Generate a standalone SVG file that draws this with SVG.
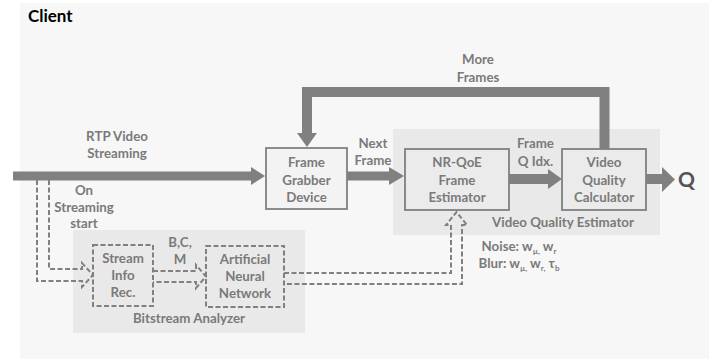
<svg xmlns="http://www.w3.org/2000/svg" width="716" height="360" viewBox="0 0 716 360">
<style>
  text { font-family: Lato, "Open Sans", "Liberation Sans", sans-serif; font-weight: bold; fill: #7a7a7a; }
  .lbl { font-size: 13.3px; text-anchor: middle; }
  .panel { fill: #e9e9e9; }
  .box { stroke: #808080; stroke-width: 1.8; }
  .dbox { fill: none; stroke: #808080; stroke-width: 2; stroke-dasharray: 5 2.5; }
  .thick { fill: #808080; }
  .thickl { fill: none; stroke: #808080; stroke-width: 10; stroke-linejoin: miter; }
  .dash { fill: none; stroke: #808080; stroke-width: 2; stroke-dasharray: 5 2.5; stroke-linejoin: miter; }
</style>
<rect x="0" y="0" width="716" height="360" fill="#ffffff"/>
<g id="client">
  <rect x="20" y="3" width="689" height="356" fill="#f7f7f7"/>
  <text x="28" y="22" style="font-size:17px; fill:#000000;">Client</text>
</g>
<g id="vqe-panel">
  <rect class="panel" x="393" y="129" width="267" height="106"/>
  <text class="lbl" x="563" y="227">Video Quality Estimator</text>
</g>
<g id="bitstream-panel">
  <rect class="panel" x="73" y="230" width="232" height="103"/>
  <text class="lbl" x="189" y="323">Bitstream Analyzer</text>
</g>
<g id="connectors">
  <!-- RTP video streaming main arrow -->
  <rect class="thick" x="13" y="171.5" width="239" height="9"/>
  <polygon class="thick" points="251,167 265,176 251,185"/>
  <!-- Next frame -->
  <rect class="thick" x="347" y="171.5" width="43" height="9"/>
  <polygon class="thick" points="389,167 404,176 389,185"/>
  <!-- Frame Q Idx -->
  <rect class="thick" x="509" y="174" width="40" height="10"/>
  <polygon class="thick" points="548,169 562,179 548,189"/>
  <!-- Output Q -->
  <rect class="thick" x="646" y="174" width="17" height="10"/>
  <polygon class="thick" points="662,167 675,179.5 662,192"/>
  <!-- More frames feedback -->
  <polyline class="thickl" points="604.5,149 604.5,92 307,92 307,134"/>
  <polygon class="thick" points="297,133 317,133 307,147"/>
  <!-- On streaming start dashed block arrow -->
  <path class="dash" d="M37,180 L37,281 L82,281 L82,287 L93,275 L82,263 L82,269 L49,269 L49,180"/>
  <!-- B,C,M dashed block arrow -->
  <path class="dash" d="M153,271 L196,271 L196,265 L206,276.5 L196,288 L196,282 L153,282"/>
  <!-- ANN to NR-QoE dashed block arrow -->
  <path class="dash" d="M284,273 L451,273 L451,225 L446,225 L456.5,212 L467,225 L462,225 L462,284 L284,284"/>
</g>
<g id="frame-grabber">
  <rect class="box" x="266" y="148" width="81" height="61" fill="#f3f3f3"/>
  <text class="lbl" x="306.5" y="167">Frame</text>
  <text class="lbl" x="306.5" y="184.5">Grabber</text>
  <text class="lbl" x="306.5" y="202">Device</text>
</g>
<g id="nrqoe">
  <rect class="box" x="405" y="149" width="104" height="61" fill="#ebebeb"/>
  <text class="lbl" x="457" y="167">NR-QoE</text>
  <text class="lbl" x="457" y="184.5">Frame</text>
  <text class="lbl" x="457" y="202">Estimator</text>
</g>
<g id="vqc">
  <rect class="box" x="562" y="149" width="84" height="61" fill="#ebebeb"/>
  <text class="lbl" x="604" y="167">Video</text>
  <text class="lbl" x="604" y="184.5">Quality</text>
  <text class="lbl" x="604" y="202">Calculator</text>
</g>
<g id="q-output">
  <text x="686.5" y="187" style="font-size:21px; text-anchor:middle; fill:#555555;">Q</text>
</g>
<g id="stream-info">
  <rect class="dbox" x="93" y="245" width="60" height="61"/>
  <text class="lbl" x="123" y="263">Stream</text>
  <text class="lbl" x="123" y="280">Info</text>
  <text class="lbl" x="123" y="297">Rec.</text>
</g>
<g id="ann">
  <rect class="dbox" x="206" y="246" width="78" height="61"/>
  <text class="lbl" x="245" y="264">Artificial</text>
  <text class="lbl" x="245" y="281">Neural</text>
  <text class="lbl" x="245" y="298">Network</text>
</g>
<g id="labels">
  <text class="lbl" x="117" y="141">RTP Video</text>
  <text class="lbl" x="117" y="158">Streaming</text>
  <text class="lbl" x="373" y="148">Next</text>
  <text class="lbl" x="373" y="165">Frame</text>
  <text class="lbl" x="478" y="64">More</text>
  <text class="lbl" x="478" y="82">Frames</text>
  <text class="lbl" x="535.5" y="148">Frame</text>
  <text class="lbl" x="535.5" y="166">Q Idx.</text>
  <text class="lbl" x="84" y="195">On</text>
  <text class="lbl" x="84" y="212">Streaming</text>
  <text class="lbl" x="84" y="228">start</text>
  <text class="lbl" x="180" y="247">B,C,</text>
  <text class="lbl" x="180" y="264">M</text>
  <text class="lbl" x="519" y="251">Noise: w<tspan font-size="8" dy="3">µ,</tspan><tspan dy="-3"> w</tspan><tspan font-size="8" dy="3">r</tspan></text>
  <text class="lbl" x="519" y="268">Blur: w<tspan font-size="8" dy="3">µ,</tspan><tspan dy="-3"> w</tspan><tspan font-size="8" dy="3">r,</tspan><tspan dy="-3"> τ</tspan><tspan font-size="8" dy="3">b</tspan></text>
</g>
</svg>
